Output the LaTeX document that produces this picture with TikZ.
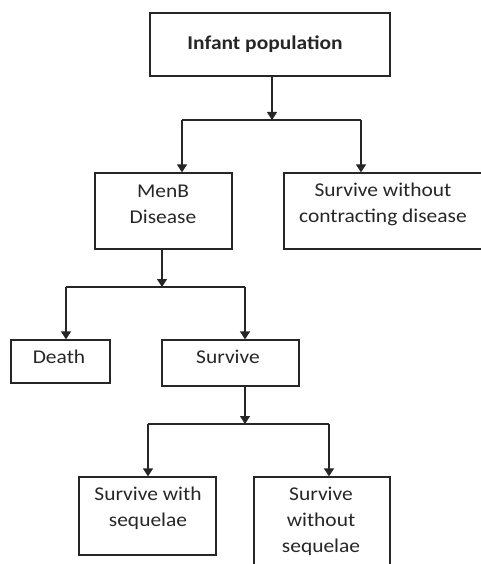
\documentclass[tikz,border=0pt]{standalone}
\usepackage{fontspec}
\setmainfont{Carlito}[FakeStretch=1.1]
\usetikzlibrary{arrows.meta}
\begin{document}
\begin{tikzpicture}[x=1pt,y=-1pt,
  box/.style={draw=black!85, line width=1.3pt, inner sep=0pt, rectangle},
  txt/.style={align=center, inner sep=0pt, text=black!85, font=\fontsize{19.5}{26}\selectfont},
  arr/.style={draw=black!85, line width=1.3pt, -{Triangle[width=10pt,length=8pt]}},
  ln/.style={draw=black!85, line width=1.3pt}]
\useasboundingbox (0,0) rectangle (481,564);
\clip (0,0) rectangle (481,564);
% boxes
\node[box, minimum width=240pt, minimum height=63pt] (top) at (270,44.5) {};
\node[box, minimum width=137pt, minimum height=76pt] (menb) at (163.5,211) {};
\node[box, minimum width=206pt, minimum height=76pt] (swc) at (387,211) {};
\node[box, minimum width=99pt, minimum height=43pt] (death) at (60.5,361.5) {};
\node[box, minimum width=137pt, minimum height=46pt] (surv) at (230.5,363) {};
\node[box, minimum width=137pt, minimum height=78pt] (sws) at (147.5,516) {};
\node[box, minimum width=136pt, minimum height=98pt] (swos) at (322,526) {};
% texts
\node[txt, font=\fontsize{19.5}{26}\selectfont\bfseries] (ttop) at (265,44) {Infant population};
\node[txt] (tmenb) at (163,204) {MenB\\Disease};
\node[txt] (tswc) at (383,204) {Survive without\\contracting disease};
\node[txt] (tdeath) at (59,357) {Death};
\node[txt] (tsurv) at (228,357) {Survive};
\node[txt] (tsws) at (148,508) {Survive with\\sequelae};
\node[txt] (tswos) at (321,521) {Survive\\without\\sequelae};
% junctions
\coordinate (j1) at (272,120);
\coordinate (j1l) at (182,120);
\coordinate (j1r) at (361,120);
\coordinate (j2) at (162,287);
\coordinate (j2l) at (66,287);
\coordinate (j2r) at (245,287);
\coordinate (j3) at (245,424);
\coordinate (j3l) at (148,424);
\coordinate (j3r) at (329,424);
% connectors
\draw[arr] (top.south -| j1) -- (j1);
\draw[ln] (j1l) -- (j1r);
\draw[arr] (j1l) -- (menb.north -| j1l);
\draw[arr] (j1r) -- (swc.north -| j1r);
\draw[arr] (menb.south -| j2) -- (j2);
\draw[ln] (j2l) -- (j2r);
\draw[arr] (j2l) -- (death.north -| j2l);
\draw[arr] (j2r) -- (surv.north -| j2r);
\draw[arr] (surv.south -| j3) -- (j3);
\draw[ln] (j3l) -- (j3r);
\draw[arr] (j3l) -- (sws.north -| j3l);
\draw[arr] (j3r) -- (swos.north -| j3r);
\end{tikzpicture}
\end{document}
